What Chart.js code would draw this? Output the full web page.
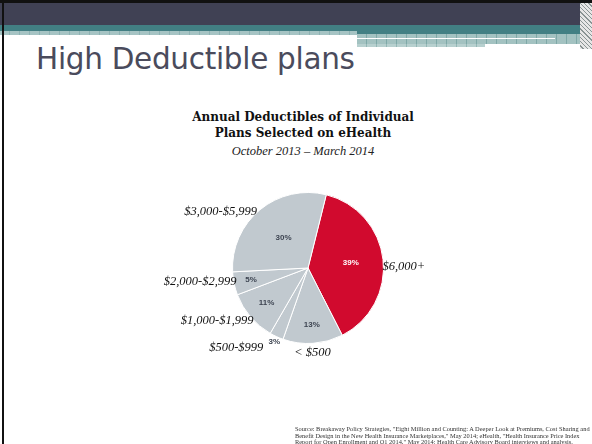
<!DOCTYPE html>
<html>
<head>
<meta charset="utf-8">
<script src="https://cdn.jsdelivr.net/npm/chart.js@4/dist/chart.umd.min.js"></script>
<style>
  html, body { margin: 0; padding: 0; background: #fff; }
  #slide { position: relative; width: 592px; height: 444px; overflow: hidden; background: #fff; }
  .bar { position: absolute; }
  #slideTitle { position: absolute; left: 36px; top: 42px; font-family: "DejaVu Sans", sans-serif; font-size: 29.5px; line-height: normal; color: #4a4b5c; letter-spacing: -0.3px; white-space: nowrap; }
  #chartTitle { position: absolute; left: 0; width: 606px; top: 109px; text-align: center; font-family: "DejaVu Serif", serif; font-weight: bold; font-size: 12px; line-height: 16px; color: #111; }
  #chartSub { position: absolute; left: 0; width: 606px; top: 144px; text-align: center; font-family: "Liberation Serif", serif; font-style: italic; font-size: 12.5px; color: #222; }
  #source { position: absolute; left: 295px; top: 426px; width: 300px; font-family: "Liberation Serif", serif; font-size: 6.4px; line-height: 6.5px; color: #333; white-space: nowrap; }
  canvas { position: absolute; left: 0; top: 0; }
</style>
</head>
<body>
<div id="slide">
  <div class="bar" style="left:0;top:0;width:592px;height:3px;background:#111;"></div>
  <div class="bar" style="left:0;top:3px;width:592px;height:22px;background:#404154;"></div>
  <div class="bar" style="left:0;top:25px;width:592px;height:6px;background:#427f83;"></div>
  <div class="bar" style="left:0;top:31px;width:357px;height:4px;background:repeating-linear-gradient(90deg,#a6c4c4 0 9px,#8fb3b3 9px 10px);"></div>
  <div class="bar" style="left:357px;top:31px;width:235px;height:3px;background:#427f83;"></div>
  <div class="bar" style="left:357px;top:34px;width:223px;height:10px;background:repeating-linear-gradient(90deg,#a3c2c1 0 9px,#7fa9a8 9px 10px);"></div>
  <div class="bar" style="left:357px;top:38px;width:198px;height:1px;background:#fff;"></div>
  <div class="bar" style="left:357px;top:44px;width:128px;height:3px;background:repeating-linear-gradient(90deg,#b7d0cf 0 9px,#93b7b6 9px 10px);"></div>
  <div class="bar" style="left:580px;top:3px;width:12px;height:46px;background:repeating-linear-gradient(45deg,#e6e6e6 0 2px,#8a9494 2px 3px);"></div>
  <div class="bar" style="left:2px;top:0;width:2px;height:444px;background:#111;"></div>

  <div id="slideTitle">High Deductible plans</div>
  <div id="chartTitle">Annual Deductibles of Individual<br>Plans Selected on eHealth</div>
  <div id="chartSub">October 2013 – March 2014</div>
  <canvas id="myChart" width="592" height="444"></canvas>
  <div id="source">Source: Breakaway Policy Strategies, "Eight Million and Counting: A Deeper Look at Premiums, Cost Sharing and<br>Benefit Design in the New Health Insurance Marketplaces," May 2014; eHealth, "Health Insurance Price Index<br>Report for Open Enrollment and Q1 2014," May 2014; Health Care Advisory Board interviews and analysis.</div>
</div>
<script>
var categories = ['$6,000+', '< $500', '$500-$999', '$1,000-$1,999', '$2,000-$2,999', '$3,000-$5,999'];
var shares = [39, 13, 3, 11, 5, 30];
var sliceColors = ['#d10a2e', '#c1c9cf', '#c1c9cf', '#c1c9cf', '#c1c9cf', '#c1c9cf'];

// label placement: radius factor for the % text, polar spot (deg clockwise from top, radius factor) for the names
var pctRadius = [0.57, 0.75, 1.07, 0.72, 0.77, 0.51];
var nameSpot = [[89, 1.27], [177, 1.12], [222, 1.42], [240, 1.39], [263, 1.44], [303, 1.38]];

var sliceLabels = {
    id: 'sliceLabels',
    afterDatasetsDraw: function (chart) {
        var ctx = chart.ctx;
        var arcs = chart.getDatasetMeta(0).data;
        ctx.save();
        ctx.textAlign = 'center';
        ctx.textBaseline = 'middle';
        arcs.forEach(function (arc, i) {
            var mid = (arc.startAngle + arc.endAngle) / 2;
            var r = arc.outerRadius * pctRadius[i];
            ctx.font = 'bold 8px "Liberation Sans", Arial, sans-serif';
            ctx.fillStyle = i === 0 ? '#ffffff' : '#3d4451';
            ctx.fillText(shares[i] + '%', arc.x + Math.cos(mid) * r, arc.y + Math.sin(mid) * r);

            var a = (nameSpot[i][0] - 90) * Math.PI / 180;
            var rr = arc.outerRadius * nameSpot[i][1];
            ctx.font = 'italic 12.5px "Liberation Serif", serif';
            ctx.fillStyle = '#111';
            ctx.fillText(categories[i], arc.x + Math.cos(a) * rr, arc.y + Math.sin(a) * rr);
        });
        ctx.restore();
    }
};

var ctx = document.getElementById('myChart').getContext('2d');
var myChart = new Chart(ctx, {
    type: 'pie',
    data: {
        labels: categories,
        datasets: [{
            data: shares,
            backgroundColor: sliceColors,
            borderColor: '#ffffff',
            borderWidth: 1
        }]
    },
    options: {
        responsive: false,
        animation: false,
        rotation: 14,
        layout: { padding: { top: 192, bottom: 100, left: 232, right: 208 } },
        plugins: {
            legend: { display: false },
            tooltip: { enabled: false }
        }
    },
    plugins: [sliceLabels]
});
</script>
</body>
</html>
